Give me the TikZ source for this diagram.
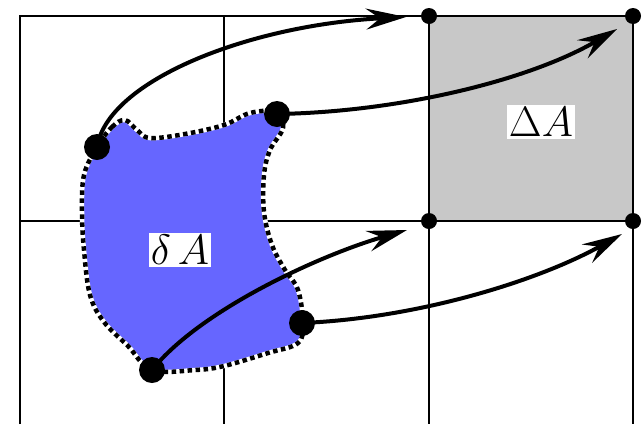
\documentclass[tikz,border=0pt]{standalone}
\usetikzlibrary{arrows.meta}
\definecolor{blobblue}{RGB}{102,102,255}
\definecolor{cellgray}{RGB}{200,200,200}
\begin{document}
\begin{tikzpicture}[x=1pt,y=-1pt,
  gridline/.style={line width=2.4pt},
  bigdot/.style={circle,fill=black,inner sep=0pt,minimum size=26pt},
  cornerdot/.style={circle,fill=black,inner sep=0pt,minimum size=16pt},
  maparrow/.style={line width=4pt,-{Stealth[length=40pt,width=21pt,inset=14pt]}},
  outline/.style={line width=4.5pt,dash pattern=on 4.5pt off 3.5pt},
  lbl/.style={fill=white,inner sep=1pt,font=\huge,scale=2.05}]
\useasboundingbox (0,0) rectangle (644,424);
% gray target cell
\fill[cellgray] (429,16) rectangle (633,221);
% grid
\draw[gridline] (20,424) -- (20,16) -- (633,16) -- (633,424);
\draw[gridline] (224,16) -- (224,424);
\draw[gridline] (429,16) -- (429,424);
\draw[gridline] (20,221) -- (633,221);
% blob
\def\blobpts{(97,147) (112,127) (125,120) (137,130) (150,138) (185,134) (224,125) (250,113)
 (277,112) (283,128) (270,150) (264,175) (264,212) (272,245) (285,270) (298,290)
 (303,323) (298,343) (268,353) (224,366) (195,370) (152,370) (128,346) (104,322)
 (90,295) (84,250) (82,212) (84,175)}
\draw[white,line width=4.5pt,fill=blobblue] plot[smooth cycle,tension=0.6] coordinates {\blobpts};
\draw[outline] plot[smooth cycle,tension=0.6] coordinates {\blobpts};
% points
\node[bigdot] (p1) at (97,147) {};
\node[bigdot] (p2) at (277,114) {};
\node[bigdot] (p3) at (152,370) {};
\node[cornerdot] (q1) at (429,16) {};
\node[cornerdot] (q2) at (633,16) {};
\node[cornerdot] (q3) at (429,221) {};
\node[cornerdot] (q4) at (633,221) {};
\node[bigdot] (p4) at (302,323) {};
\coordinate (t1) at (406,17);
\coordinate (t2) at (617,29);
\coordinate (t3) at (407,230);
\coordinate (t4) at (622,234);
% arrows
\draw[maparrow] (p1.center) .. controls (108,80) and (250,25) .. (t1);
\draw[maparrow] (p2.center) .. controls (400,112) and (530,80) .. (t2);
\draw[maparrow] (p3.center) .. controls (200,310) and (320,255) .. (t3);
\draw[maparrow] (p4.center) .. controls (420,318) and (540,280) .. (t4);
% labels
\node[lbl] (dA) at (180,250) {$\delta\,A$};
\node[lbl] (DA) at (541,122) {$\Delta A$};
\end{tikzpicture}
\end{document}
